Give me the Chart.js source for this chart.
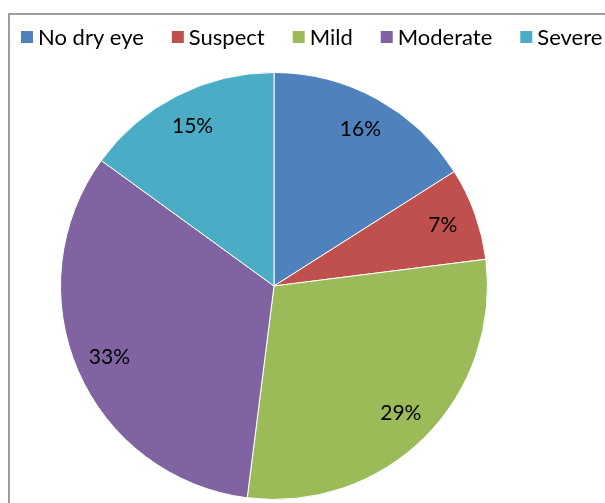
<!DOCTYPE html>
<html>
<head>
<meta charset="utf-8">
<script src="https://cdn.jsdelivr.net/npm/chart.js@4.4.0/dist/chart.umd.min.js"></script>
<style>
html,body{margin:0;padding:0;background:#fff;overflow:hidden;}
#wrap{position:relative;width:605px;height:503px;}
</style>
</head>
<body>
<div id="wrap"><canvas id="c" width="605" height="503"></canvas></div>
<script>
const categories = ['No dry eye', 'Suspect', 'Mild', 'Moderate', 'Severe'];
const percentages = [16, 7, 29, 33, 15];
const sliceColors = ['#4F81BD', '#C0504D', '#9BBB59', '#8064A2', '#4BACC6'];

const FONT = 'Lato, "Open Sans", sans-serif';

const framePlugin = {
  id: 'frame',
  beforeDraw(chart) {
    const ctx = chart.ctx;
    ctx.save();
    ctx.strokeStyle = '#7f7f7f';
    ctx.lineWidth = 1.5;
    ctx.strokeRect(9, 14, 700, 600);
    ctx.restore();
  }
};

const legendPlugin = {
  id: 'customLegend',
  afterDraw(chart) {
    const ctx = chart.ctx;
    ctx.save();
    ctx.font = '22px ' + FONT;
    ctx.textBaseline = 'middle';
    let x = 21;
    const y = 37;
    categories.forEach((lab, i) => {
      ctx.fillStyle = sliceColors[i];
      ctx.fillRect(x, y - 6, 12, 12);
      ctx.fillStyle = '#000';
      ctx.textAlign = 'left';
      ctx.fillText(lab, x + 17, y + 1);
      x += 17 + ctx.measureText(lab).width + 28;
    });
    ctx.restore();
  }
};

const labelPlugin = {
  id: 'sliceLabels',
  afterDatasetsDraw(chart) {
    const ctx = chart.ctx;
    const meta = chart.getDatasetMeta(0);
    ctx.save();
    ctx.font = '21px ' + FONT;
    ctx.fillStyle = '#000';
    ctx.textAlign = 'center';
    ctx.textBaseline = 'middle';
    meta.data.forEach((arc, i) => {
      const p = arc.getProps(['x', 'y', 'startAngle', 'endAngle', 'outerRadius'], true);
      const mid = (p.startAngle + p.endAngle) / 2;
      const r = p.outerRadius * 0.84;
      ctx.fillText(percentages[i] + '%', p.x + Math.cos(mid) * r, p.y + Math.sin(mid) * r);
    });
    ctx.restore();
  }
};

new Chart(document.getElementById('c'), {
  type: 'pie',
  data: {
    labels: categories,
    datasets: [{
      data: percentages,
      backgroundColor: sliceColors,
      borderColor: '#ffffff',
      borderWidth: 1
    }]
  },
  options: {
    responsive: false,
    animation: false,
    layout: { padding: { top: 72, bottom: 3, left: 60, right: 117 } },
    plugins: {
      legend: { display: false },
      tooltip: { enabled: false }
    }
  },
  plugins: [framePlugin, legendPlugin, labelPlugin]
});
</script>
</body>
</html>
